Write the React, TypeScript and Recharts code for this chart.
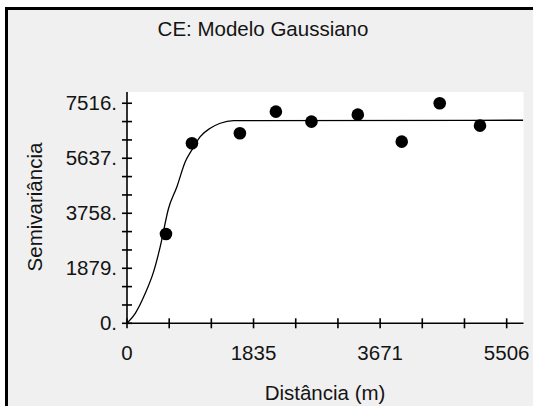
import React from "react";
import { ComposedChart, Line, Scatter, XAxis, YAxis, CartesianGrid } from "recharts";

// Experimental semivariance points
const lagDistances = [565, 942, 1637, 2159, 2675, 3347, 3984, 4535, 5119];
const semivariances = [3051, 6150, 6491, 7229, 6888, 7127, 6205, 7516, 6751];

// Fitted Gaussian model curve
const modelDistances = [0, 120, 265, 386, 482, 603, 724, 845, 941, 1062, 1207, 1352, 1545, 5745];
const modelValues = [0, 342, 1025, 1763, 2617, 3929, 4667, 5521, 5921, 6375, 6662, 6833, 6922, 6935];

// Axis ticks
const xTicks = [0, 612, 1223, 1835, 2447, 3059, 3671, 4282, 4894, 5506];
const xTickLabels: Record<number, string> = { 0: "0", 1835: "1835", 3671: "3671", 5506: "5506" };
const yTicks = [0, 626, 1253, 1879, 2505, 3132, 3758, 4384, 5011, 5637, 6263, 6890, 7516];
const yTickLabels: Record<number, string> = { 0: "0.", 1879: "1879.", 3758: "3758.", 5637: "5637.", 7516: "7516." };

const title = "CE: Modelo Gaussiano";
const xLabel = "Distância (m)";
const yLabel = "Semivariância";

const FONT = "'Liberation Sans', Arial, sans-serif";
const TXT = "#141414";
const FS = 20.5;

const scatterData = lagDistances.map((d, i) => ({ x: d, y: semivariances[i] }));
const modelData = modelDistances.map((d, i) => ({ x: d, y: modelValues[i] }));

const XTick = (props: any) => {
  const { x, y, payload } = props;
  const label = xTickLabels[payload.value];
  return (
    <g>
      <line x1={x} x2={x} y1={y - 5} y2={y + 5} stroke="#000" strokeWidth={1.6} />
      {label !== undefined && (
        <text x={x} y={y + 37} textAnchor="middle" fontSize={FS} fontFamily={FONT} fill={TXT}>
          {label}
        </text>
      )}
    </g>
  );
};

const YTick = (props: any) => {
  const { x, y, payload } = props;
  const label = yTickLabels[payload.value];
  return (
    <g>
      <line x1={x - 5} x2={x + 5} y1={y} y2={y} stroke="#000" strokeWidth={1.6} />
      {label !== undefined && (
        <text x={x - 10} y={y + 7} textAnchor="end" fontSize={FS} fontFamily={FONT} fill={TXT}>
          {label}
        </text>
      )}
    </g>
  );
};

const Dot = (props: any) => {
  const { cx, cy } = props;
  return <circle cx={cx} cy={cy} r={6.3} fill="#000" />;
};

export default function App() {
  return (
    <div style={{ position: "absolute", left: 0, top: 0, width: 533, height: 406, background: "#fff", overflow: "hidden" }}>
      <div style={{ position: "absolute", left: 5, top: 7, width: 528, height: 399, background: "#f0f0f0" }} />
      <div style={{ position: "absolute", left: 5, top: 7, width: 528, height: 2.5, background: "#000" }} />
      <div style={{ position: "absolute", left: 5, top: 7, width: 3, height: 399, background: "#000" }} />
      <div style={{ position: "absolute", left: 0, top: 0 }}>
        <ComposedChart width={533} height={406} margin={{ top: 92, left: 67, right: 9.5, bottom: 42.7 }}>
          <CartesianGrid fill="#ffffff" horizontal={false} vertical={false} stroke="none" />
          <XAxis
            type="number"
            dataKey="x"
            domain={[0, 5750]}
            ticks={xTicks}
            interval={0}
            height={40}
            tickSize={0}
            tickMargin={0}
            tick={<XTick />}
            axisLine={{ stroke: "#000", strokeWidth: 1.6 }}
            allowDataOverflow
          />
          <YAxis
            type="number"
            dataKey="y"
            domain={[0, 7900]}
            ticks={yTicks}
            interval={0}
            width={60}
            tickSize={0}
            tickMargin={0}
            tick={<YTick />}
            axisLine={{ stroke: "#000", strokeWidth: 1.6 }}
            allowDataOverflow
          />
          <Line
            data={modelData}
            dataKey="y"
            type="monotone"
            stroke="#000"
            strokeWidth={1.3}
            dot={false}
            activeDot={false}
            isAnimationActive={false}
          />
          <Scatter data={scatterData} dataKey="y" shape={<Dot />} isAnimationActive={false} />
          <text x={263} y={36} textAnchor="middle" fontSize={FS} fontFamily={FONT} fill={TXT}>
            {title}
          </text>
          <text x={325} y={400} textAnchor="middle" fontSize={FS} fontFamily={FONT} fill={TXT}>
            {xLabel}
          </text>
          <text
            x={42}
            y={207}
            textAnchor="middle"
            fontSize={FS}
            fontFamily={FONT}
            fill={TXT}
            transform="rotate(-90 42 207)"
          >
            {yLabel}
          </text>
        </ComposedChart>
      </div>
    </div>
  );
}
